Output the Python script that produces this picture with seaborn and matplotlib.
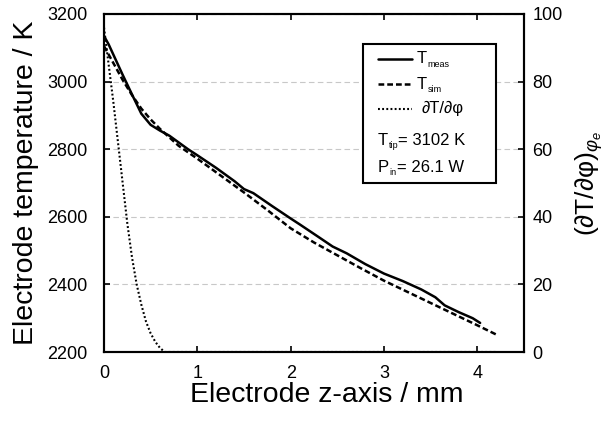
import numpy as np
import pandas as pd
import matplotlib
matplotlib.use("Agg")
import matplotlib.pyplot as plt
import seaborn as sns
from matplotlib.patches import Rectangle

# ---------------- data ----------------
z_meas = [0.0, 0.05, 0.1, 0.2, 0.3, 0.4, 0.5, 0.6, 0.7, 0.8, 0.9, 1.0, 1.2, 1.4, 1.5,
          1.6, 1.8, 2.0, 2.1, 2.3, 2.45, 2.6, 2.8, 3.0, 3.2, 3.4, 3.55, 3.65, 3.8, 3.95, 4.03]
T_meas = [3135, 3110, 3080, 3020, 2962, 2905, 2872, 2855, 2840, 2820, 2800, 2782, 2745, 2705, 2682,
          2670, 2632, 2595, 2577, 2540, 2512, 2492, 2460, 2432, 2410, 2385, 2362, 2338, 2318, 2300, 2286]

z_sim = [0.0, 0.1, 0.2, 0.3, 0.4, 0.5, 0.6, 0.7, 0.8, 1.0, 1.25, 1.5, 1.75, 2.0, 2.25,
         2.5, 2.75, 3.0, 3.25, 3.5, 3.75, 4.0, 4.2]
T_sim = [3105, 3055, 3005, 2960, 2920, 2888, 2860, 2835, 2810, 2772, 2722, 2672, 2620, 2566, 2524,
         2486, 2448, 2411, 2378, 2345, 2312, 2279, 2252]

z_dphi = [0.0, 0.05, 0.1, 0.15, 0.2, 0.25, 0.3, 0.35, 0.4, 0.45, 0.5, 0.55, 0.6, 0.65, 4.2]
dT_dphi = [96, 85, 74, 62, 50, 38, 28, 20, 14, 9, 5.5, 3.0, 1.2, 0.0, 0.0]

x_ticks = [0, 1, 2, 3, 4]
y_ticks = [2200, 2400, 2600, 2800, 3000, 3200]
y2_ticks = [0, 20, 40, 60, 80, 100]

T_tip = "3102 K"
P_in = "26.1 W"

# ---------------- style ----------------
sns.set_theme(style="white")
plt.rcParams["font.family"] = ["Liberation Sans", "DejaVu Sans"]
plt.rcParams["mathtext.fontset"] = "custom"
plt.rcParams["mathtext.rm"] = "Liberation Sans"
plt.rcParams["mathtext.it"] = "Liberation Sans:italic"
for k in ("text.color", "axes.labelcolor", "xtick.color", "ytick.color",
          "xtick.labelcolor", "ytick.labelcolor"):
    plt.rcParams[k] = "black"

fig = plt.figure(figsize=(6.13, 4.23), dpi=100)
ax = fig.add_axes([104 / 613, (423 - 352) / 423, 420 / 613, 338 / 423])
ax2 = ax.twinx()

df_meas = pd.DataFrame({"z": z_meas, "T": T_meas})
df_sim = pd.DataFrame({"z": z_sim, "T": T_sim})
df_d = pd.DataFrame({"z": z_dphi, "d": dT_dphi})

lw = 1.8
dash = (0, (2.3, 1.2))
dot = (0, (0.9, 1.1))
sns.lineplot(data=df_meas, x="z", y="T", ax=ax, color="black", lw=lw, sort=False,
             estimator=None)
sns.lineplot(data=df_sim, x="z", y="T", ax=ax, color="black", lw=lw, sort=False,
             estimator=None, linestyle=dash)
sns.lineplot(data=df_d, x="z", y="d", ax=ax2, color="black", lw=1.5, sort=False,
             estimator=None, linestyle=dot)

ax.set_xlim(0, 4.5)
ax.set_ylim(2200, 3200)
ax2.set_ylim(0, 100)
ax.set_xticks(x_ticks)
ax.set_yticks(y_ticks)
ax2.set_yticks(y2_ticks)

ax.yaxis.grid(True, linestyle=(0, (5, 3)), color="#c8c8c8", lw=0.8)
ax.xaxis.grid(False)
ax2.grid(False)

for a in (ax, ax2):
    for s in a.spines.values():
        s.set_color("black")
        s.set_linewidth(1.5)
ax.tick_params(axis="both", direction="in", length=4, width=1.2, color="black",
               labelcolor="black", labelsize=13, top=True, bottom=True, left=True,
               right=False)
ax.tick_params(axis="y", pad=12)
ax.tick_params(axis="x", pad=9)
ax2.tick_params(axis="y", direction="in", length=4, width=1.2, color="black",
                labelcolor="black", labelsize=13, pad=6)

ax.set_xlabel("Electrode z-axis / mm", fontsize=20.5, color="black")
ax.xaxis.set_label_coords(0.53, -0.088, transform=ax.transAxes)
ax.xaxis.label.set_verticalalignment("top")
ax.set_ylabel("Electrode temperature / K", fontsize=20.5, labelpad=6, color="black")
ax2.set_ylabel("(∂T/∂φ)$_{φ_e}$", fontsize=19, labelpad=8, color="black")

# ---------------- legend box ----------------
fs = 12
sub = 6.5
box = Rectangle((0.617, 0.50), 0.316, 0.411, transform=ax.transAxes, fill=True,
                facecolor="white", edgecolor="black", lw=1.5, zorder=5)
ax.add_patch(box)
rows = [0.867, 0.792, 0.720]
styles = ["-", dash, dot]
for yy, st in zip(rows, styles):
    ax.plot([0.652, 0.733], [yy, yy], transform=ax.transAxes, color="black",
            lw=lw if st != dot else 1.5, linestyle=st, zorder=6)

def sub_text(x, y, main, subscript, rest=""):
    t = ax.text(x, y, main, transform=ax.transAxes, fontsize=fs, va="center",
                ha="left", zorder=7, color="black")
    s = ax.annotate(subscript, xy=(1, 0), xycoords=t, xytext=(0.5, -1.5),
                    textcoords="offset points", fontsize=sub, va="bottom", ha="left",
                    zorder=7, color="black")
    if rest:
        ax.annotate(rest, xy=(1, 0), xycoords=s, xytext=(0, 1.5),
                    textcoords="offset points", fontsize=fs, va="bottom", ha="left",
                    zorder=7, color="black")

sub_text(0.745, rows[0], "T", "meas")
sub_text(0.745, rows[1], "T", "sim")
ax.text(0.757, rows[2], "∂T/∂φ", transform=ax.transAxes, fontsize=fs, va="center",
        ha="left", zorder=7, color="black")
sub_text(0.652, 0.627, "T", "tip", "= " + T_tip)
sub_text(0.652, 0.547, "P", "in", "= " + P_in)

fig.savefig("out.png", dpi=100)
